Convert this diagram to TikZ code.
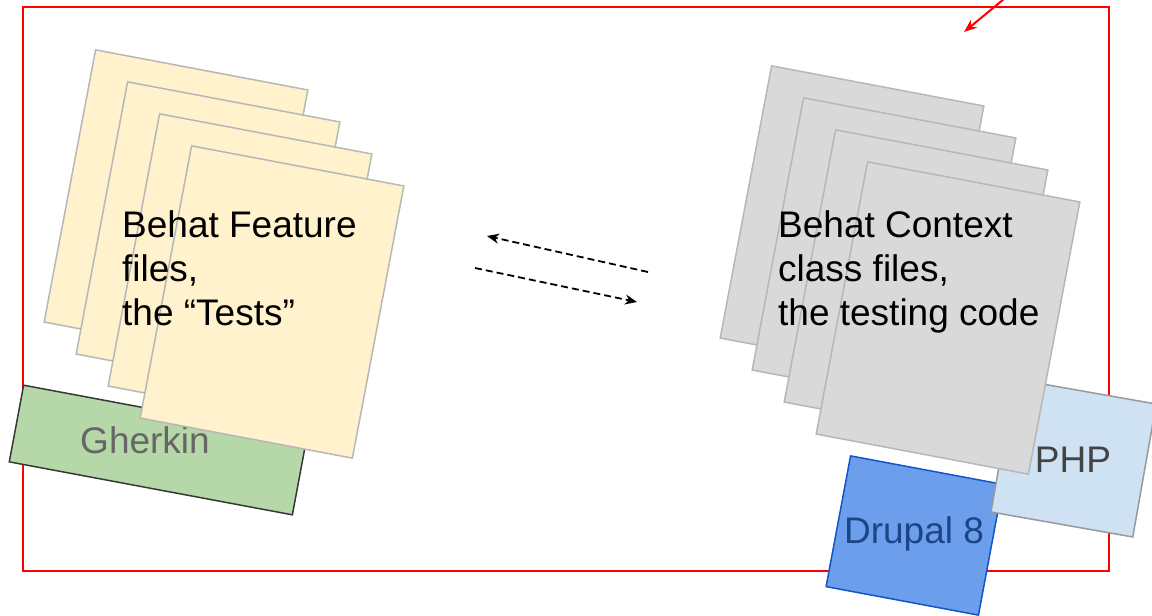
\documentclass[tikz,border=0pt]{standalone}
\usepackage{fontspec}
\setmainfont{Liberation Sans}
\usetikzlibrary{arrows.meta}
\definecolor{featfill}{HTML}{FFF2CC}
\definecolor{ctxfill}{HTML}{D9D9D9}
\definecolor{pageline}{HTML}{B7B7B7}
\definecolor{gherkfill}{HTML}{B6D7A8}
\definecolor{gherkline}{HTML}{383838}
\definecolor{gherktext}{HTML}{666666}
\definecolor{phpfill}{HTML}{CFE2F3}
\definecolor{phpline}{HTML}{999999}
\definecolor{phptext}{HTML}{434343}
\definecolor{drupfill}{HTML}{6D9EEB}
\definecolor{drupline}{HTML}{1155CC}
\definecolor{druptext}{HTML}{1C4587}
\begin{document}
\begin{tikzpicture}[x=1pt,y=-1pt,
  page/.style={draw=pageline,line width=1.5pt,minimum width=216pt,minimum height=277pt,inner sep=0pt,rotate=-10.7},
  tag/.style={line width=1.5pt,inner sep=0pt},
  lbl/.style={font=\fontsize{37}{44}\selectfont,inner sep=0pt},
  dashy/.style={-{Stealth[length=12pt,width=10pt]},line width=1.8pt,dash pattern=on 7pt off 4pt}]
\useasboundingbox (0,0) rectangle (1152,616);
\clip (0,0) rectangle (1152,616);

\draw[red,line width=1.5pt] (23,7) rectangle (1109,571);
\coordinate (r1) at (1010,-6);
\coordinate (r2) at (964,32);
\draw[red,line width=2pt,-{Stealth[length=13pt,width=10pt]}] (r1) -- (r2);

\node[tag,fill=gherkfill,draw=gherkline,minimum width=288pt,minimum height=78pt,rotate=-10.6] (gherkin) at (158,450) {};
\node[lbl,text=gherktext,anchor=base] (gtext) at (145,453) {Gherkin};

\foreach \i in {1,...,4}
  \node[page,fill=featfill] (f\i) at ({144+32*\i},{174+32*\i}) {};
\node[lbl,align=left,anchor=base west] (ftext) at (122,325) {Behat Feature\\files,\\the “Tests”};

\coordinate (d1) at (648,272);
\coordinate (d2) at (487,236);
\coordinate (d3) at (475,268);
\coordinate (d4) at (637,302);
\draw[dashy] (d1) -- (d2);
\draw[dashy] (d3) -- (d4);

\node[tag,fill=drupfill,draw=drupline,minimum width=155pt,minimum height=133pt,rotate=-10.6] (drupal) at (914.5,535.5) {};
\node[lbl,text=druptext,anchor=base] (dtext) at (914,543) {Drupal 8};
\node[tag,fill=phpfill,draw=phpline,minimum width=144pt,minimum height=135pt,rotate=-10] (php) at (1073.6,458) {};
\node[lbl,text=phptext,anchor=base] (ptext) at (1073,472) {PHP};

\foreach \i in {1,...,4}
  \node[page,fill=ctxfill] (c\i) at ({820+32*\i},{190+32*\i}) {};
\node[lbl,align=left,anchor=base west] (ctext) at (778,325) {Behat Context\\class files,\\the testing code};

\end{tikzpicture}
\end{document}
